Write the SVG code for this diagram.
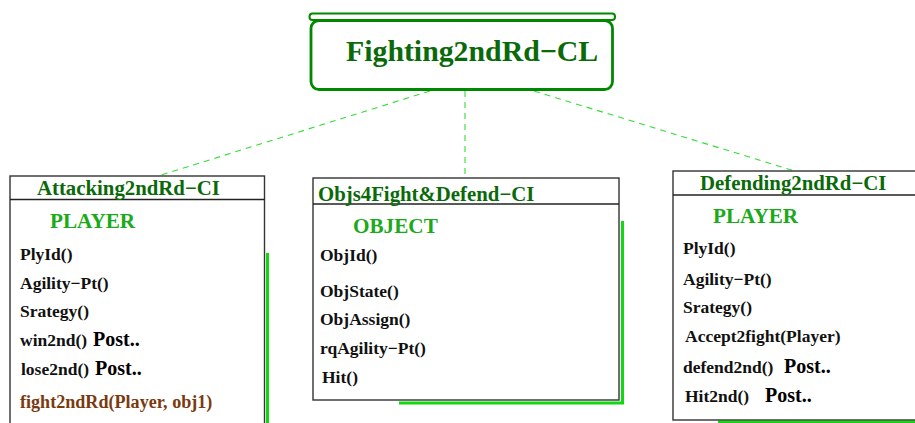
<svg xmlns="http://www.w3.org/2000/svg" width="915" height="423" viewBox="0 0 915 423">
<style>
text{font-family:"Liberation Serif","Times New Roman",serif;font-weight:bold}
.hdr{fill:#0a6a0a;font-size:20.8px}
.cls{fill:#1aaa1a;font-size:21.2px}
.m{fill:#111;font-size:17.5px}
.post{fill:#000;font-size:20px}
.box{fill:#fff;stroke:#333;stroke-width:1.4}
.sep{stroke:#222;stroke-width:1.3}
.shadow{fill:none;stroke:#11d811;stroke-width:3}
.conn{fill:none;stroke:#33dd33;stroke-width:1.1;stroke-dasharray:6,5}
</style>
<rect width="915" height="423" fill="#fff"/>
<g id="connectors">
<line class="conn" x1="430" y1="91" x2="158" y2="176"/>
<line class="conn" x1="465" y1="91" x2="465" y2="177"/>
<line class="conn" x1="534" y1="91" x2="798" y2="172"/>
</g>
<g id="fighting">
<rect x="309.5" y="13.5" width="305.5" height="6.5" rx="3" fill="#fff" stroke="#008800" stroke-width="2"/>
<rect x="311" y="20.5" width="301.5" height="69" rx="8" fill="#fff" stroke="#008800" stroke-width="2.8"/>
<text x="346" y="61" style="font-size:29.8px;fill:#0a6a0a">Fighting2ndRd−CL</text>
</g>
<g id="attacking">
<path class="shadow" d="M267.5 253 V425"/>
<rect class="box" x="10" y="176" width="254.5" height="260"/>
<line class="sep" x1="10" y1="199.5" x2="264.5" y2="199.5"/>
<text class="hdr" x="37" y="195">Attacking2ndRd−CI</text>
<text class="cls" x="50" y="228">PLAYER</text>
<text class="m" x="20" y="260">PlyId()</text>
<text class="m" x="20" y="289">Agility−Pt()</text>
<text class="m" x="20" y="317">Srategy()</text>
<text class="m" x="20" y="346">win2nd() <tspan class="post" x="93">Post..</tspan></text>
<text class="m" x="21" y="375">lose2nd() <tspan class="post" x="95">Post..</tspan></text>
<text class="m" x="20" y="408" style="fill:#7a3a10;font-size:18.1px">fight2ndRd(Player, obj1)</text>
</g>
<g id="objs4fight">
<path class="shadow" d="M399 403 H622.5 V221"/>
<rect class="box" x="313" y="178" width="306" height="222"/>
<line class="sep" x1="313" y1="204" x2="619" y2="204"/>
<text class="hdr" x="318" y="201">Objs4Fight&amp;Defend−CI</text>
<text class="cls" x="353" y="233">OBJECT</text>
<text class="m" x="320" y="261">ObjId()</text>
<text class="m" x="320" y="297">ObjState()</text>
<text class="m" x="320" y="325">ObjAssign()</text>
<text class="m" x="320" y="354">rqAgility−Pt()</text>
<text class="m" x="322" y="383">Hit()</text>
</g>
<g id="defending">
<path class="shadow" d="M718 422 H920"/>
<rect class="box" x="673" y="171" width="260" height="249"/>
<line class="sep" x1="673" y1="195" x2="915" y2="195"/>
<text class="hdr" x="700" y="190">Defending2ndRd−CI</text>
<text class="cls" x="713" y="223">PLAYER</text>
<text class="m" x="683" y="254">PlyId()</text>
<text class="m" x="683" y="285">Agility−Pt()</text>
<text class="m" x="683" y="313">Srategy()</text>
<text class="m" x="685" y="342">Accept2fight(Player)</text>
<text class="m" x="683" y="373">defend2nd() <tspan class="post" x="784">Post..</tspan></text>
<text class="m" x="685" y="402">Hit2nd() <tspan class="post" x="765">Post..</tspan></text>
</g>
</svg>
